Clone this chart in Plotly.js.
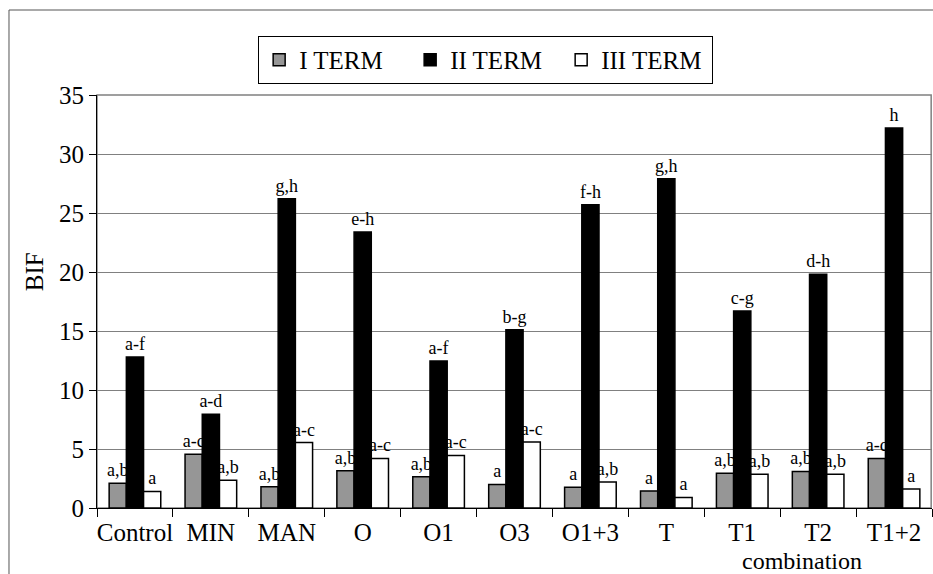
<!DOCTYPE html>
<html>
<head>
<meta charset="utf-8">
<script src="https://cdn.plot.ly/plotly-3.0.1.min.js"></script>
<style>html,body{margin:0;padding:0;background:#fff;}#chart{width:933px;height:574px;}</style>
</head>
<body>
<div id="chart"></div>
<script>
var categories = ["Control", "MIN", "MAN", "O", "O1", "O3", "O1+3", "T", "T1", "T2", "T1+2"];
var termI   = [2.1, 4.55, 1.8, 3.15, 2.65, 2.0, 1.75, 1.45, 2.95, 3.1, 4.2];
var termII  = [12.8, 7.95, 26.2, 23.4, 12.45, 15.1, 25.7, 27.9, 16.7, 19.8, 32.2];
var termIII = [1.4, 2.35, 5.55, 4.2, 4.45, 5.6, 2.2, 0.9, 2.85, 2.85, 1.6];
var labelsI   = ["a,b", "a-c", "a,b", "a,b", "a,b", "a", "a", "a", "a,b", "a,b", "a-c"];
var labelsII  = ["a-f", "a-d", "g,h", "e-h", "a-f", "b-g", "f-h", "g,h", "c-g", "d-h", "h"];
var labelsIII = ["a", "a,b", "a-c", "a-c", "a-c", "a-c", "a,b", "a", "a,b", "a,b", "a"];
var seriesNames = ["I TERM", "II TERM", "III TERM"];

var serif = "Liberation Serif";
function mk(name, vals, labels, fill) {
  return {
    type: "bar", name: name, x: categories, y: vals,
    text: labels, textposition: "outside", cliponaxis: false, constraintext: "none",
    textfont: {family: serif, size: 18, color: "#000"},
    marker: {color: fill, line: {color: "#000", width: 1.5}}
  };
}
var data = [
  mk(seriesNames[0], termI, labelsI, "#969696"),
  mk(seriesNames[1], termII, labelsII, "#000000"),
  mk(seriesNames[2], termIII, labelsIII, "#ffffff")
];

var layout = {
  width: 933, height: 574,
  margin: {l: 97, r: 1, t: 95, b: 66},
  paper_bgcolor: "#fff", plot_bgcolor: "#fff",
  font: {family: serif, color: "#000"},
  barmode: "group", bargap: 0.32, bargroupgap: 0,
  showlegend: true,
  legend: {
    orientation: "h", x: 0.193, y: 1.143, xanchor: "left", yanchor: "top",
    bordercolor: "#000", borderwidth: 1, bgcolor: "#fff",
    font: {family: serif, size: 25, color: "#000"},
    itemwidth: 30, traceorder: "normal", entrywidth: 106
  },
  xaxis: {
    type: "category", showgrid: false, showline: true, linecolor: "#000", linewidth: 1,
    ticks: "outside", tickson: "boundaries", ticklen: 8, tickcolor: "#000", tickangle: 0,
    ticklabelstandoff: 2,
    tickfont: {family: serif, size: 25, color: "#000"}, automargin: false
  },
  yaxis: {
    range: [0, 35], dtick: 5, showgrid: true, gridcolor: "#808080", gridwidth: 1,
    showline: true, linecolor: "#000", linewidth: 1, ticks: "outside", ticklen: 7, tickcolor: "#000",
    tickfont: {family: serif, size: 25, color: "#000"}, zeroline: false, automargin: false
  },
  shapes: [
    {type: "rect", xref: "paper", yref: "paper", x0: 0, x1: 0.999, y0: 0, y1: 1,
     line: {color: "#808080", width: 1.5}, layer: "below"},
    {type: "rect", xref: "paper", yref: "paper", x0: -0.1054, x1: 1.2, y0: -0.2, y1: 1.2058,
     line: {color: "#555", width: 1}, layer: "below"}
  ],
  annotations: [
    {text: "combination", xref: "paper", yref: "paper", x: 0.844, y: -0.129,
     xanchor: "center", yanchor: "middle", showarrow: false,
     font: {family: serif, size: 24, color: "#000"}},
    {text: "BIF", xref: "paper", yref: "paper", x: -0.0754, y: 0.571, textangle: -90,
     xanchor: "center", yanchor: "middle", showarrow: false,
     font: {family: serif, size: 25, color: "#000"}}
  ]
};
Plotly.newPlot("chart", data, layout, {displayModeBar: false, staticPlot: true});
</script>
</body>
</html>
